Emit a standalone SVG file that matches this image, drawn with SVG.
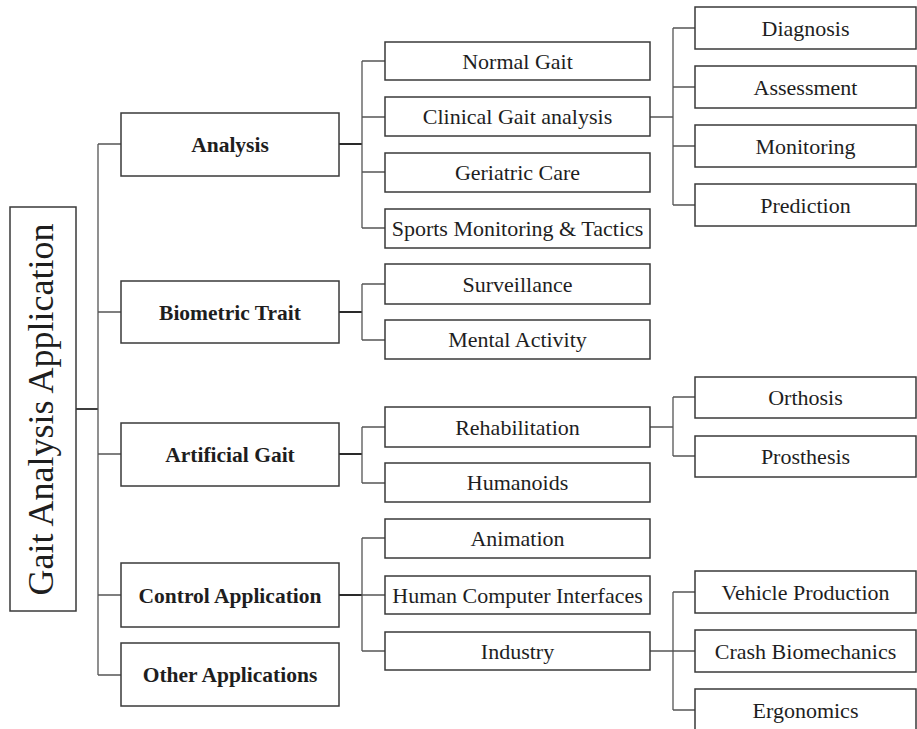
<svg xmlns="http://www.w3.org/2000/svg" width="917" height="729" viewBox="0 0 917 729">
<style>
.box{fill:#fff;stroke:#3a3a3a;stroke-width:1.5}
.t{font-family:"Liberation Serif","Times New Roman",serif;font-size:22px;fill:#1e1e1e;text-anchor:middle}
.b{font-family:"Liberation Serif","Times New Roman",serif;font-size:21.5px;font-weight:bold;fill:#1e1e1e;text-anchor:middle}
.root{font-family:"Liberation Serif","Times New Roman",serif;font-size:36px;fill:#1e1e1e;text-anchor:middle}
.c{fill:none;stroke:#555;stroke-width:1.3}
.s{fill:none;stroke:#2a2a2a;stroke-width:1.8}
</style>
<rect width="917" height="729" fill="#fff"/>
<g id="connectors">
  <path class="s" d="M76 409H98"/>
  <path class="c" d="M98 144V675M98 144H121M98 312H121M98 454H121M98 595H121M98 675H121"/>
  <path class="s" d="M339 144H362M339 312H362M339 454H362M339 595H362"/>
  <path class="c" d="M362 61V228M362 61H385M362 117H385M362 172H385M362 228H385"/>
  <path class="c" d="M362 284V340M362 284H385M362 340H385"/>
  <path class="c" d="M362 427V483M362 427H385M362 483H385"/>
  <path class="c" d="M362 538V651M362 538H385M362 595H385M362 651H385"/>
  <path class="c" d="M650 117H673M673 28V205M673 28H695M673 87H695M673 146H695M673 205H695"/>
  <path class="c" d="M650 427H673M673 397V456M673 397H695M673 456H695"/>
  <path class="c" d="M650 651H695M673 592V710M673 592H695M673 710H695"/>
</g>
<g id="root"><rect class="box" x="10" y="207" width="66" height="404"/><text class="root" transform="translate(53 409.5) rotate(-90)">Gait Analysis Application</text></g>
<g id="analysis"><rect class="box" x="121" y="113" width="218" height="63"/><text class="b" x="230" y="152">Analysis</text></g>
<g id="biometric"><rect class="box" x="121" y="281" width="218" height="62"/><text class="b" x="230" y="319.5">Biometric Trait</text></g>
<g id="artificial"><rect class="box" x="121" y="423" width="218" height="63"/><text class="b" x="230" y="462">Artificial Gait</text></g>
<g id="control"><rect class="box" x="121" y="563" width="218" height="64"/><text class="b" x="230" y="602.5">Control Application</text></g>
<g id="other"><rect class="box" x="121" y="643" width="218" height="63"/><text class="b" x="230" y="682">Other Applications</text></g>
<g id="normal"><rect class="box" x="385" y="42" width="265" height="38"/><text class="t" x="517.5" y="68.5">Normal Gait</text></g>
<g id="clinical"><rect class="box" x="385" y="97" width="265" height="39"/><text class="t" x="517.5" y="124">Clinical Gait analysis</text></g>
<g id="geriatric"><rect class="box" x="385" y="153" width="265" height="39"/><text class="t" x="517.5" y="180">Geriatric Care</text></g>
<g id="sports"><rect class="box" x="385" y="209" width="265" height="39"/><text class="t" x="517.5" y="236">Sports Monitoring &amp; Tactics</text></g>
<g id="surveillance"><rect class="box" x="385" y="264" width="265" height="40"/><text class="t" x="517.5" y="291.5">Surveillance</text></g>
<g id="mental"><rect class="box" x="385" y="320" width="265" height="39"/><text class="t" x="517.5" y="347">Mental Activity</text></g>
<g id="rehab"><rect class="box" x="385" y="407" width="265" height="40"/><text class="t" x="517.5" y="434.5">Rehabilitation</text></g>
<g id="humanoids"><rect class="box" x="385" y="463" width="265" height="39"/><text class="t" x="517.5" y="490">Humanoids</text></g>
<g id="animation"><rect class="box" x="385" y="519" width="265" height="39"/><text class="t" x="517.5" y="546">Animation</text></g>
<g id="hci"><rect class="box" x="385" y="576" width="265" height="38"/><text class="t" x="517.5" y="602.5">Human Computer Interfaces</text></g>
<g id="industry"><rect class="box" x="385" y="632" width="265" height="38"/><text class="t" x="517.5" y="658.5">Industry</text></g>
<g id="diagnosis"><rect class="box" x="695" y="7" width="221" height="42"/><text class="t" x="805.5" y="35.5">Diagnosis</text></g>
<g id="assessment"><rect class="box" x="695" y="66" width="221" height="42"/><text class="t" x="805.5" y="94.5">Assessment</text></g>
<g id="monitoring"><rect class="box" x="695" y="125" width="221" height="42"/><text class="t" x="805.5" y="153.5">Monitoring</text></g>
<g id="prediction"><rect class="box" x="695" y="184" width="221" height="42"/><text class="t" x="805.5" y="212.5">Prediction</text></g>
<g id="orthosis"><rect class="box" x="695" y="377" width="221" height="41"/><text class="t" x="805.5" y="405">Orthosis</text></g>
<g id="prosthesis"><rect class="box" x="695" y="436" width="221" height="41"/><text class="t" x="805.5" y="464">Prosthesis</text></g>
<g id="vehicle"><rect class="box" x="695" y="571" width="221" height="42"/><text class="t" x="805.5" y="599.5">Vehicle Production</text></g>
<g id="crash"><rect class="box" x="695" y="630" width="221" height="42"/><text class="t" x="805.5" y="658.5">Crash Biomechanics</text></g>
<g id="ergonomics"><rect class="box" x="695" y="689" width="221" height="44"/><text class="t" x="805.5" y="717.5">Ergonomics</text></g>
</svg>
